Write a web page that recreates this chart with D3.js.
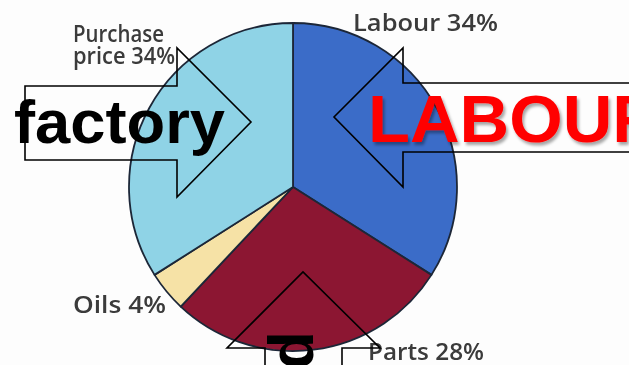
<!DOCTYPE html>
<html>
<head>
<meta charset="utf-8">
<script src="https://cdn.jsdelivr.net/npm/d3@7"></script>
<style>
  body { margin: 0; background: #fdfdfd; }
  svg { display: block; }
</style>
</head>
<body>
<div id="chart"></div>
<script>
// pie data
var categories = ["Labour", "Parts", "Oils", "Purchase price"];
var shares = [34, 28, 4, 34];
var colours = ["#3b6cc8", "#8c1730", "#f6e2a6", "#8fd3e6"];

// slice labels (lines of text each)
var labelLines = [["Labour 34%"], ["Parts 28%"], ["Oils 4%"], ["Purchase", "price 34%"]];

// arrow overlays
var arrowWords = ["factory", "LABOUR", "parts"];

var W = 629, H = 365;

var svg = d3.select("#chart").append("svg")
    .attr("width", W)
    .attr("height", H);

var defs = svg.append("defs");
defs.append("filter").attr("id", "soft")
    .append("feGaussianBlur").attr("stdDeviation", 0.6);
defs.append("filter").attr("id", "shadow")
    .attr("x", "-10%").attr("y", "-10%").attr("width", "130%").attr("height", "140%")
    .append("feDropShadow")
    .attr("dx", 2).attr("dy", 3).attr("stdDeviation", 1.5)
    .attr("flood-color", "#000").attr("flood-opacity", 0.35);

var cx = 293, cy = 187, r = 164;

var pie = d3.pie().sort(null).value(function (d) { return d; });
var arc = d3.arc().innerRadius(0).outerRadius(r);

var g = svg.append("g")
    .attr("transform", "translate(" + cx + "," + cy + ")")
    .attr("filter", "url(#soft)");

g.selectAll("path")
    .data(pie(shares))
    .enter()
    .append("path")
    .attr("d", arc)
    .attr("fill", function (d, i) { return colours[i]; })
    .attr("stroke", "#1d2838")
    .attr("stroke-width", 1.8)
    .attr("stroke-linejoin", "round");

// labels, placed by hand like the source image
var labelPos = [
    {x: 353, y: 31, w: [145]},
    {x: 368, y: 360, w: [116]},
    {x: 73, y: 313, w: [93]},
    {x: 73, y: 42, w: [91, 102], dy: 22}
];

var labels = svg.append("g").attr("filter", "url(#soft)");
labelLines.forEach(function (lines, i) {
    var p = labelPos[i];
    lines.forEach(function (line, j) {
        labels.append("text")
            .attr("x", p.x)
            .attr("y", p.y + j * (p.dy || 0))
            .attr("textLength", p.w[j])
            .attr("lengthAdjust", "spacingAndGlyphs")
            .attr("font-family", "'Open Sans', sans-serif")
            .attr("font-weight", 600)
            .attr("font-size", 24)
            .attr("fill", "#3a3a3a")
            .text(line);
    });
});

// arrows (outline only)
var arrowShapes = [
    [[25, 86], [177, 86], [177, 48], [251, 122], [177, 197], [177, 160], [25, 160]],
    [[640, 83], [403, 83], [403, 48], [334, 117], [403, 187], [403, 152], [640, 152]],
    [[265, 380], [265, 348], [227, 348], [303, 272], [380, 348], [342, 348], [342, 380]]
];

var line = d3.line();
svg.append("g").selectAll("path")
    .data(arrowShapes)
    .enter()
    .append("path")
    .attr("d", function (d) { return line(d) + "Z"; })
    .attr("fill", "none")
    .attr("stroke", "#000")
    .attr("stroke-width", 1.6)
    .attr("stroke-linejoin", "miter");

// factory
svg.append("text")
    .attr("x", 14)
    .attr("y", 143)
    .attr("textLength", 211)
    .attr("lengthAdjust", "spacingAndGlyphs")
    .attr("font-family", "'Liberation Sans', Arial, sans-serif")
    .attr("font-weight", "bold")
    .attr("font-size", 61)
    .attr("fill", "#000")
    .text(arrowWords[0]);

// LABOUR
svg.append("text")
    .attr("x", 368)
    .attr("y", 142)
    .attr("textLength", 294)
    .attr("lengthAdjust", "spacingAndGlyphs")
    .attr("font-family", "'Liberation Sans', Arial, sans-serif")
    .attr("font-weight", "bold")
    .attr("font-size", 66)
    .attr("fill", "#ff0000")
    .attr("filter", "url(#shadow)")
    .text(arrowWords[1]);

// parts, turned to run downwards
svg.append("text")
    .attr("transform", "translate(280,331) rotate(90)")
    .attr("font-family", "'Liberation Sans', Arial, sans-serif")
    .attr("font-weight", "bold")
    .attr("font-size", 63)
    .attr("fill", "#000")
    .text(arrowWords[2]);
</script>
</body>
</html>
